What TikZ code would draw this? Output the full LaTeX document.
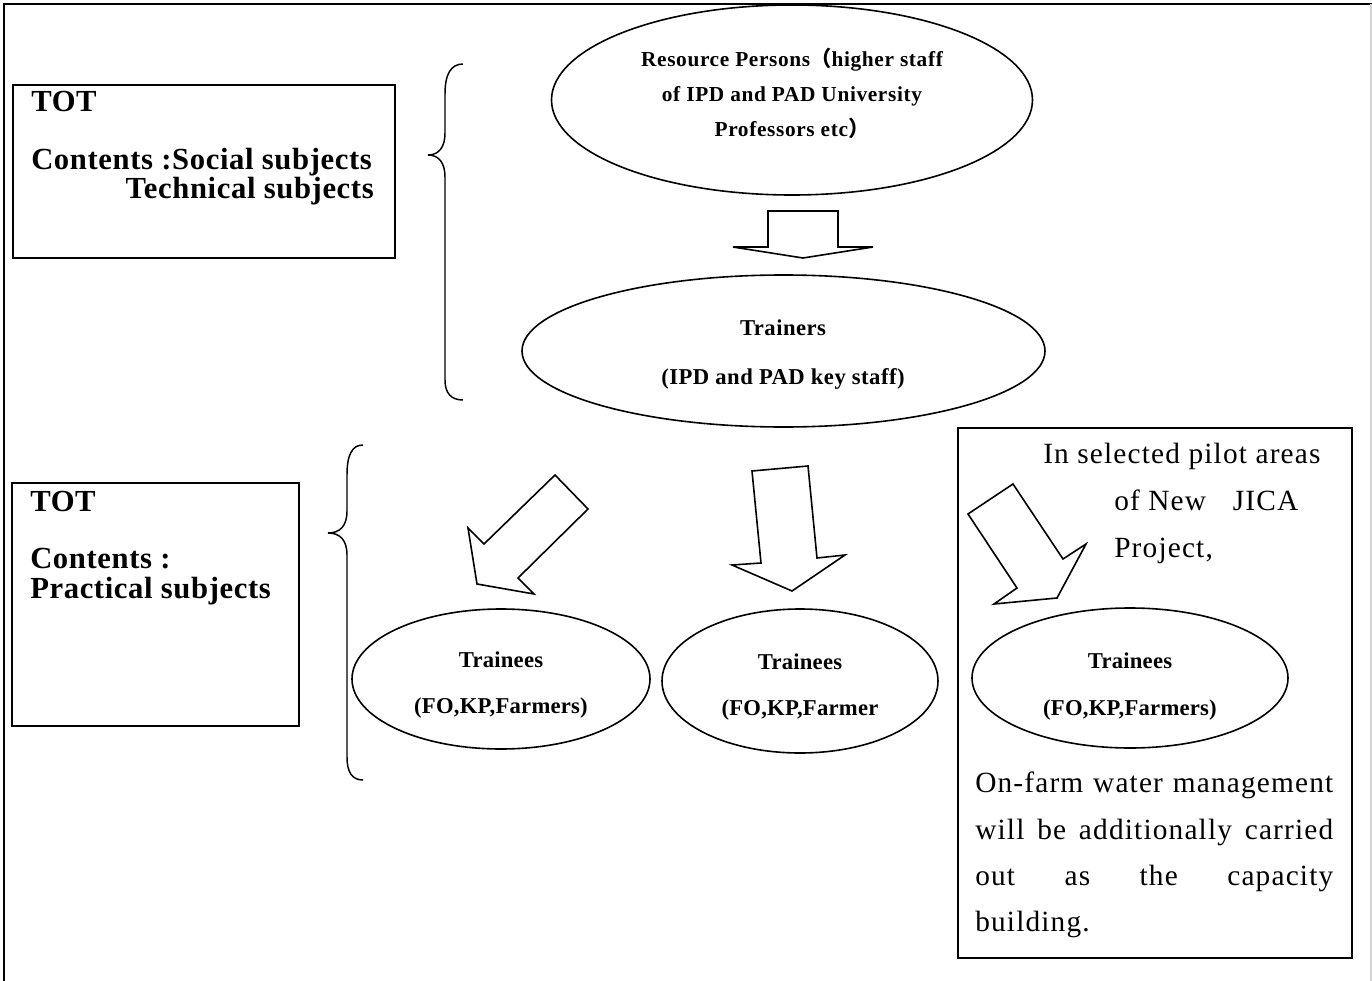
\documentclass[tikz,border=0pt]{standalone}
\usepackage{fontspec}
\setmainfont{Liberation Serif}
\newfontfamily\totfont[LetterSpace=2]{Liberation Serif}
\newfontfamily\rpfont[LetterSpace=3]{Liberation Serif}
\newfontfamily\trfont[LetterSpace=2]{Liberation Serif}
\newfontfamily\teefont[LetterSpace=1]{Liberation Serif}
\newfontfamily\notefont[LetterSpace=4]{Liberation Serif}
\newfontfamily\cjkfont{Noto Sans CJK JP}
\usetikzlibrary{shapes.geometric}
\newcommand\mytot{\totfont\bfseries\fontsize{23pt}{27pt}\selectfont}
\newcommand\myrp{\rpfont\bfseries\fontsize{16pt}{19pt}\selectfont}
\newcommand\mytr{\trfont\bfseries\fontsize{17pt}{20pt}\selectfont}
\newcommand\mytee{\teefont\bfseries\fontsize{17pt}{20pt}\selectfont}
\newcommand\mynote{\notefont\fontsize{22pt}{26pt}\selectfont}
\begin{document}
\begin{tikzpicture}[x=0.75pt,y=-0.75pt,
  frame/.style={draw=black,line width=1.6pt},
  boxnode/.style={draw=black,line width=1.3pt,rectangle,inner sep=0pt},
  ellnode/.style={draw=black,line width=1.2pt,ellipse,inner sep=0pt},
  blockarrow/.style={draw=black,line width=1.2pt,line join=miter,fill=white},
  bracket/.style={draw=black,line width=1.1pt},
  txt/.style={inner sep=0pt,anchor=base},
  txtw/.style={inner sep=0pt,anchor=base west},
  txte/.style={inner sep=0pt,anchor=base east}]
\useasboundingbox (0,0) rectangle (1372,981);
\fill[white] (0,0) rectangle (1372,981);
% outer frame
\coordinate (fTL) at (4,4);
\coordinate (fTR) at (1372,4);
\coordinate (fBL) at (4,981);
\draw[frame] (fTR) -- (fTL) -- (fBL);
\draw[gray!35,line width=0.8pt] (1371,4) -- (1371,981);

% top TOT box
\node[boxnode,minimum width=286.5pt,minimum height=129.75pt] (tot1) at (204,171.5) {};
\node[txtw] (tot1a) at (31,112) {\mytot TOT};
\node[txtw] (tot1b) at (31,170) {\mytot Contents :Social subjects};
\node[txte] (tot1c) at (374,199) {\mytot Technical subjects};

% top brace
\draw[bracket] (463,64) .. controls (451,64) and (445,74) .. (445,94) -- (445,133)
  .. controls (445,147) and (439,155) .. (428,155)
  .. controls (439,155) and (445,163) .. (445,177) -- (445,380)
  .. controls (445,393) and (451,400) .. (463,400);

% resource persons ellipse
\node[ellnode,minimum width=360.75pt,minimum height=142.5pt] (rp) at (792,100) {};
\node[txt] (rp1) at (792,67) {\myrp Resource Persons{\cjkfont （}higher staff};
\node[txt] (rp2) at (792,102) {\myrp of IPD and PAD University};
\node[txt] (rp3) at (792,137) {\myrp Professors etc{\cjkfont ）}};

% block arrow 1
\draw[blockarrow] (768,211) -- (838,211) -- (838,247) -- (873,247) -- (803,258) -- (733,247) -- (768,247) -- cycle;

% trainers ellipse
\node[ellnode,minimum width=392.25pt,minimum height=114pt] (trainers) at (783.5,351) {};
\node[txt] (tr1) at (783,335) {\mytr Trainers};
\node[txt] (tr2) at (783,384) {\mytr (IPD and PAD key staff)};

% lower TOT box
\node[boxnode,minimum width=215.25pt,minimum height=182.25pt] (tot2) at (155.5,604.5) {};
\node[txtw] (tot2a) at (30,511) {\mytot TOT};
\node[txtw] (tot2b) at (30,568) {\mytot Contents :};
\node[txtw] (tot2c) at (30,598) {\mytot Practical subjects};

% lower brace
\draw[bracket] (363,445) .. controls (352,445) and (347,455) .. (347,475) -- (347,511)
  .. controls (347,526) and (340,533) .. (328,533)
  .. controls (340,533) and (347,540) .. (347,555) -- (347,757)
  .. controls (347,772) and (352,780) .. (363,780);

% lower block arrows
\draw[blockarrow] (555,475) -- (588,509) -- (518,578) -- (534,594) -- (477,584) -- (468,528) -- (484,544) -- cycle;
\draw[blockarrow] (752,471) -- (808,466) -- (817,558) -- (845,555) -- (792,591) -- (732,565) -- (761,563) -- cycle;
\draw[blockarrow] (1013,484) -- (1063,559) -- (1086,544) -- (1057,598) -- (994,604) -- (1017,588) -- (968,514) -- cycle;

% trainees ellipses
\node[ellnode,minimum width=223.5pt,minimum height=105pt] (tl) at (501,679) {};
\node[txt] (tl1) at (501,667) {\mytee Trainees};
\node[txt] (tl2) at (501,713) {\mytee (FO,KP,Farmers)};
\node[ellnode,minimum width=207pt,minimum height=108pt] (tm) at (800,681) {};
\node[txt] (tm1) at (800,669) {\mytee Trainees};
\node[txt] (tm2) at (800,715) {\mytee (FO,KP,Farmer};

% right note box
\node[boxnode,minimum width=295.5pt,minimum height=397.5pt] (note) at (1155,693) {};
\node[txtw] (n1) at (1043,463) {\mynote In selected pilot areas};
\node[txtw] (n2) at (1114,510) {\mynote of New\hspace{20pt}JICA};
\node[txtw] (n3) at (1114,557) {\mynote Project,};
\node[ellnode,minimum width=237pt,minimum height=105pt] (tr) at (1130,678) {};
\node[txt] (tr1b) at (1130,668) {\mytee Trainees};
\node[txt] (tr2b) at (1130,715) {\mytee (FO,KP,Farmers)};
\node[txtw] (m1) at (975,792) {\mynote\makebox[268.5pt][s]{On-farm water management}};
\node[txtw] (m2) at (975,839) {\mynote\makebox[268.5pt][s]{will be additionally carried}};
\node[txtw] (m3) at (975,885) {\mynote\makebox[268.5pt][s]{out as the capacity}};
\node[txtw] (m4) at (975,931) {\mynote building.};
\end{tikzpicture}
\end{document}
